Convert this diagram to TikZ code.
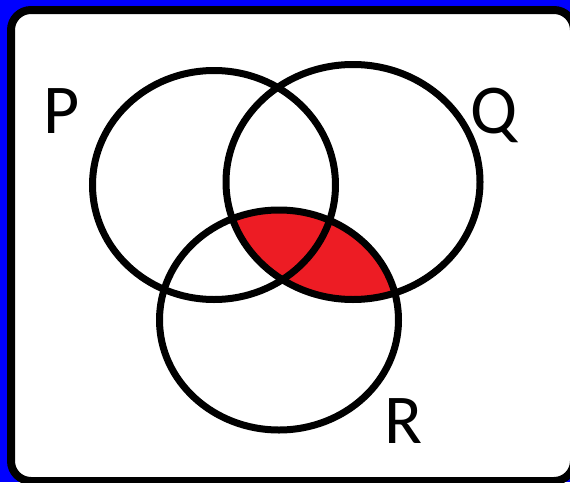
\documentclass[tikz,border=0pt]{standalone}
\usepackage{fontspec}
\setmainfont{Carlito}
\usepackage{xcolor}
\definecolor{shadered}{HTML}{ED1C24}
\begin{document}
\begin{tikzpicture}[x=1pt, y=-1pt,
  setline/.style={draw=black, line width=7pt},
  setlabel/.style={font=\fontsize{70}{70}\selectfont, inner sep=0pt, anchor=base}]

  \useasboundingbox (0,0) rectangle (570,482);
  \fill[blue] (0,0) rectangle (570,482);
  \draw[fill=white, line width=8pt, rounded corners=20pt] (11,10) rectangle (574,481);

  % Q and R shaded
  \begin{scope}
    \clip (353,182) ellipse [x radius=127, y radius=117.5];
    \fill[shadered] (279,320) ellipse [x radius=119.5, y radius=110];
  \end{scope}

  \draw[setline] (214,185) ellipse [x radius=121.5, y radius=114.5];
  \draw[setline] (353,182) ellipse [x radius=127, y radius=117.5];
  \draw[setline] (279,320) ellipse [x radius=119.5, y radius=110];

  \node[setlabel] (P) at (62,133) {P};
  \node[setlabel] (Q) at (494,133) {Q};
  \node[setlabel] (R) at (403,443) {R};
\end{tikzpicture}
\end{document}
